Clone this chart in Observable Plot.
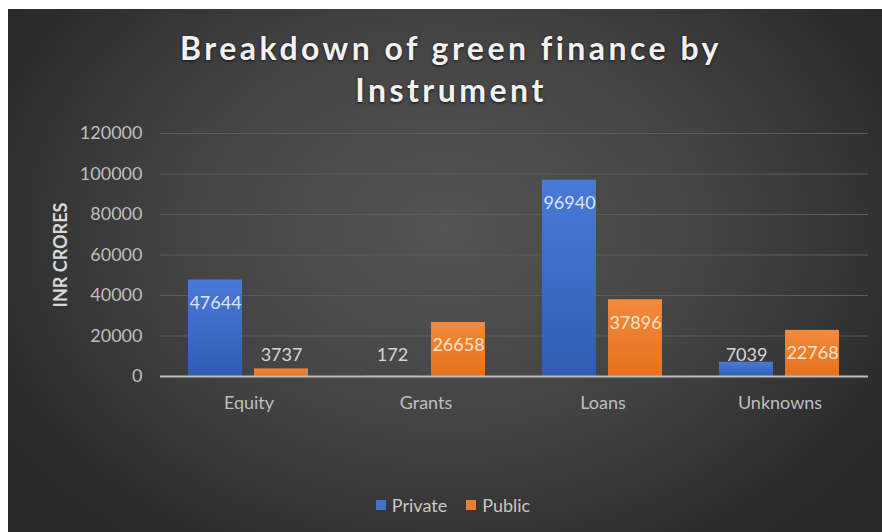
<!DOCTYPE html>
<html>
<head>
<meta charset="utf-8">
<script src="https://cdn.jsdelivr.net/npm/d3@7"></script>
<script src="https://cdn.jsdelivr.net/npm/@observablehq/plot@0.6"></script>
<style>
  html, body { margin: 0; padding: 0; background: #ffffff; }
  body { width: 882px; height: 532px; position: relative; overflow: hidden; font-family: Lato, "Open Sans", sans-serif; }
  #panel {
    position: absolute; left: 8px; top: 9px; width: 874px; height: 523px; overflow: hidden;
    background: radial-gradient(ellipse 62% 78% at 50% 42%, #545454 0%, #434343 50%, #2c2c2c 88%, #282828 100%);
  }
  #title {
    position: absolute; left: 6px; top: 18px; width: 874px; text-align: center;
    font-family: Lato, sans-serif; font-weight: 700; font-size: 32px; line-height: 42px;
    color: #f2f2f2; text-shadow: 0 1px 3px rgba(0,0,0,0.7);
  }
  #ylabel {
    position: absolute; left: 52px; top: 246px; width: 0; height: 0;
  }
  #ylabel span {
    position: absolute; transform: translate(-50%, -50%) rotate(-90deg);
    white-space: nowrap; font-weight: 700; font-size: 18px; color: #d9d9d9;
  }
  #chart { position: absolute; left: 0; top: 110px; }
  #legend {
    position: absolute; left: 0; width: 874px; top: 484px; display: flex; justify-content: center;
    gap: 19px; font-size: 18px; color: #c8c8c8; line-height: 24px; padding-left: 16px; box-sizing: border-box;
  }
  .item { display: flex; align-items: center; gap: 6px; }
  .sw { width: 10px; height: 10px; display: inline-block; }
</style>
</head>
<body>
<svg width="0" height="0" style="position:absolute">
  <defs>
    <linearGradient id="gradPrivate" x1="0" y1="0" x2="0" y2="1">
      <stop offset="0" stop-color="#4a7ad8"/>
      <stop offset="1" stop-color="#2f5db3"/>
    </linearGradient>
    <linearGradient id="gradPublic" x1="0" y1="0" x2="0" y2="1">
      <stop offset="0" stop-color="#f28a3c"/>
      <stop offset="1" stop-color="#e6711e"/>
    </linearGradient>
  </defs>
</svg>
<div id="panel">
  <div id="title">Breakdown of green finance by<br>Instrument</div>
  <div id="ylabel"><span>INR CRORES</span></div>
  <div id="chart"></div>
  <div id="legend"></div>
</div>
<script>
// ---- data ----
const categories = ["Equity", "Grants", "Loans", "Unknowns"];
const series = ["Private", "Public"];
const privateValues = [47644, 172, 96940, 7039];
const publicValues = [3737, 26658, 37896, 22768];
const yTicks = [0, 20000, 40000, 60000, 80000, 100000, 120000];
const seriesColors = ["#4472c4", "#ed7d31"];
const seriesGradients = ["url(#gradPrivate)", "url(#gradPublic)"];

const rows = [];
categories.forEach((c, i) => {
  rows.push({category: c, series: "Private", value: privateValues[i]});
  rows.push({category: c, series: "Public", value: publicValues[i]});
});

// labels sit inside the bar top unless the bar is too short
const labelFloor = 21700;
const labelY = d => Math.max(d.value, labelFloor);

// fit title letter-spacing
(function () {
  const t = document.getElementById("title");
  const ctx = document.createElement("canvas").getContext("2d");
  ctx.font = "700 32px Lato";
  const line = "Breakdown of green finance by";
  const w = ctx.measureText(line).width;
  const ls = (542 - w) / line.length;
  t.style.letterSpacing = ls + "px";
})();

const chart = Plot.plot({
  width: 874,
  height: 310,
  marginLeft: 152,
  marginRight: 14,
  marginTop: 14,
  marginBottom: 53,
  style: {background: "transparent", color: "#bfbfbf", fontSize: "18px", fontFamily: "Lato, sans-serif", overflow: "visible"},
  facet: {data: rows, x: "category"},
  fx: {domain: categories, padding: 0, label: null, axis: "bottom", tickSize: 0, tickPadding: 20},
  x: {domain: series, axis: null, paddingInner: 0.179, paddingOuter: 0.418},
  y: {domain: [0, 120000], ticks: yTicks, tickFormat: d => String(d), tickSize: 0, tickPadding: 18, label: null, grid: false},
  color: {domain: series, range: seriesGradients},
  marks: [
    Plot.gridY(yTicks.filter(v => v > 0), {stroke: "#5c5c5c", strokeOpacity: 1, strokeWidth: 1}),
    Plot.barY(rows, {x: "series", y: "value", fill: "series"}),
    Plot.ruleY([0], {stroke: "#bdbdbd", strokeWidth: 2}),
    Plot.text(rows, {filter: d => d.series === "Private" && d.value >= labelFloor, x: "series", y: labelY, dy: 23, text: d => String(d.value), fill: "#dce5f6", fontSize: 18}),
    Plot.text(rows, {filter: d => d.series === "Public" && d.value >= labelFloor, x: "series", y: labelY, dy: 23, text: d => String(d.value), fill: "#fde2cc", fontSize: 18}),
    Plot.text(rows, {filter: d => d.value < labelFloor, x: "series", y: labelY, dy: 23, text: d => String(d.value), fill: "#d6d6d6", fontSize: 18})
  ]
});
document.getElementById("chart").appendChild(chart);

// legend
const legend = document.getElementById("legend");
series.forEach((s, i) => {
  const item = document.createElement("div");
  item.className = "item";
  const sw = document.createElement("span");
  sw.className = "sw";
  sw.style.background = seriesColors[i];
  const lab = document.createElement("span");
  lab.textContent = s;
  item.appendChild(sw);
  item.appendChild(lab);
  legend.appendChild(item);
});
</script>
</body>
</html>
